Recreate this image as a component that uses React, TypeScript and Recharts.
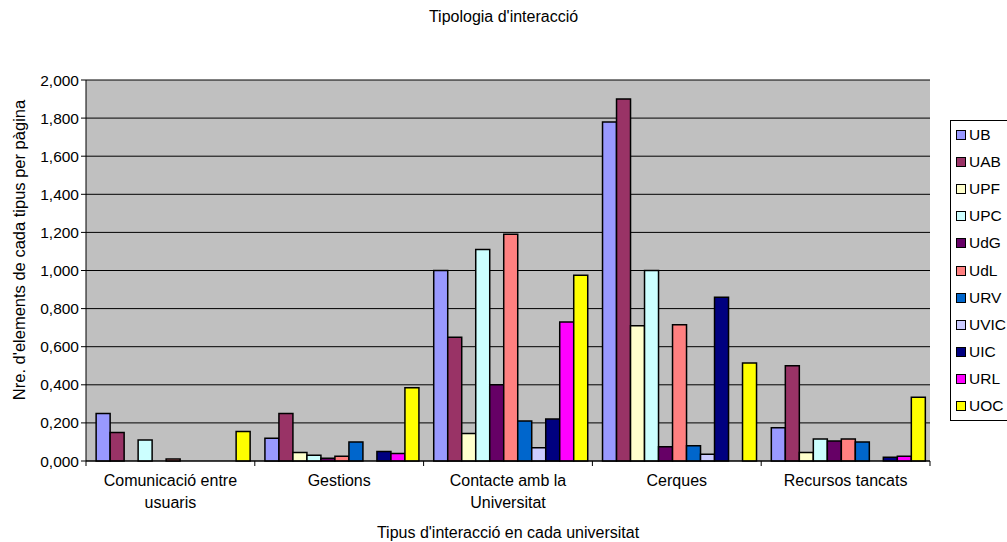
import React from 'react';
import { BarChart, Bar, XAxis, YAxis, CartesianGrid, Text } from 'recharts';

const categories = [
  'Comunicació entre usuaris',
  'Gestions',
  'Contacte amb la Universitat',
  'Cerques',
  'Recursos tancats',
];

const universities = ['UB', 'UAB', 'UPF', 'UPC', 'UdG', 'UdL', 'URV', 'UVIC', 'UIC', 'URL', 'UOC'];

const colors = ['#9999FF', '#993366', '#FFFFCC', '#CCFFFF', '#660066', '#FF8080', '#0066CC', '#CCCCFF', '#000080', '#FF00FF', '#FFFF00'];

// one array per university, in the order of the categories
const UB = [0.25, 0.12, 1.0, 1.78, 0.175];
const UAB = [0.15, 0.25, 0.65, 1.9, 0.5];
const UPF = [0, 0.045, 0.145, 0.71, 0.045];
const UPC = [0.11, 0.03, 1.11, 1.0, 0.115];
const UdG = [0, 0.015, 0.4, 0.075, 0.105];
const UdL = [0.01, 0.025, 1.19, 0.715, 0.115];
const URV = [0, 0.1, 0.21, 0.08, 0.1];
const UVIC = [0, 0, 0.07, 0.035, 0];
const UIC = [0, 0.05, 0.22, 0.86, 0.02];
const URL = [0, 0.04, 0.73, 0, 0.025];
const UOC = [0.155, 0.385, 0.975, 0.515, 0.335];

const yTicks = [0, 0.2, 0.4, 0.6, 0.8, 1.0, 1.2, 1.4, 1.6, 1.8, 2.0];

const seriesValues = [UB, UAB, UPF, UPC, UdG, UdL, URV, UVIC, UIC, URL, UOC];

const data = categories.map((name, i) => {
  const row: Record<string, string | number> = { name };
  universities.forEach((u, j) => {
    row[u] = seriesValues[j][i];
  });
  return row;
});

const FONT = '"Liberation Sans", Arial, sans-serif';

const fmt = (v: number) => v.toFixed(3).replace('.', ',');

const CategoryTick = (props: any) => {
  const { x, y, payload, index } = props;
  const half = payload?.offset ?? 0;
  return (
    <g>
      <line x1={x - half} y1={y - 8} x2={x - half} y2={y - 3} stroke="#000" />
      {index === categories.length - 1 && (
        <line x1={x + half} y1={y - 8} x2={x + half} y2={y - 3} stroke="#000" />
      )}
      <Text
        x={x}
        y={y + 6}
        width={150}
        textAnchor="middle"
        verticalAnchor="start"
        lineHeight={22}
        fontSize={16}
        fontFamily={FONT}
        fill="#000"
      >
        {payload.value}
      </Text>
    </g>
  );
};

const LegendBox = () => (
  <div
    style={{
      position: 'absolute',
      left: 950,
      top: 120,
      border: '1px solid #000',
      background: '#fff',
      width: 70,
      padding: '0 0 0 5px',
      fontFamily: FONT,
      fontSize: 15.5,
      color: '#000',
    }}
  >
    {universities.map((u, i) => (
      <div key={u} style={{ display: 'flex', alignItems: 'center', height: 27.2 }}>
        <span
          style={{
            display: 'inline-block',
            width: 8,
            height: 8,
            border: '1.5px solid #000',
            background: colors[i],
            marginRight: 3,
          }}
        />
        <span>{u}</span>
      </div>
    ))}
  </div>
);

export default function App() {
  return (
    <div style={{ position: 'absolute', left: 0, top: 0, width: 1007, height: 542, background: '#fff', overflow: 'hidden' }}>
      <div
        style={{
          position: 'absolute',
          top: 8,
          left: 0,
          width: 1007,
          textAlign: 'center',
          fontFamily: FONT,
          fontSize: 16,
        }}
      >
        Tipologia d'interacció
      </div>
      <BarChart
        width={1007}
        height={542}
        data={data}
        margin={{ top: 80, right: 77, bottom: 31, left: 10 }}
        barCategoryGap="6%"
        barGap={0}
      >
        <CartesianGrid vertical={false} stroke="#000" fill="#C0C0C0" />
        <XAxis
          dataKey="name"
          height={50}
          axisLine={{ stroke: '#000' }}
          tickLine={false}
          interval={0}
          tick={<CategoryTick />}
        />
        <XAxis
          xAxisId="top"
          orientation="top"
          dataKey="name"
          height={0}
          tick={false}
          tickLine={false}
          axisLine={{ stroke: '#808080', strokeWidth: 1.5 }}
        />
        <YAxis
          width={76}
          domain={[0, 2]}
          ticks={yTicks}
          tickFormatter={fmt}
          axisLine={{ stroke: '#000' }}
          tickLine={{ stroke: '#000' }}
          tickSize={5}
          tick={{ fontSize: 15.5, fontFamily: FONT, fill: '#000' }}
        />
        <YAxis
          yAxisId="right"
          orientation="right"
          width={0}
          domain={[0, 2]}
          tick={false}
          tickLine={false}
          axisLine={{ stroke: '#808080', strokeWidth: 1.5 }}
        />
        {universities.map((u, i) => (
          <Bar
            key={u}
            dataKey={u}
            fill={colors[i]}
            stroke="#000"
            strokeWidth={1.5}
            isAnimationActive={false}
          />
        ))}
      </BarChart>
      <LegendBox />
      <div
        style={{
          position: 'absolute',
          top: 524,
          left: 86,
          width: 844,
          textAlign: 'center',
          fontFamily: FONT,
          fontSize: 16,
        }}
      >
        Tipus d'interacció en cada universitat
      </div>
      <div
        style={{
          position: 'absolute',
          left: 19,
          top: 250,
          transform: 'translate(-50%, -50%) rotate(-90deg)',
          whiteSpace: 'nowrap',
          fontFamily: FONT,
          fontSize: 16.5,
        }}
      >
        Nre. d'elements de cada tipus per pàgina
      </div>
    </div>
  );
}
